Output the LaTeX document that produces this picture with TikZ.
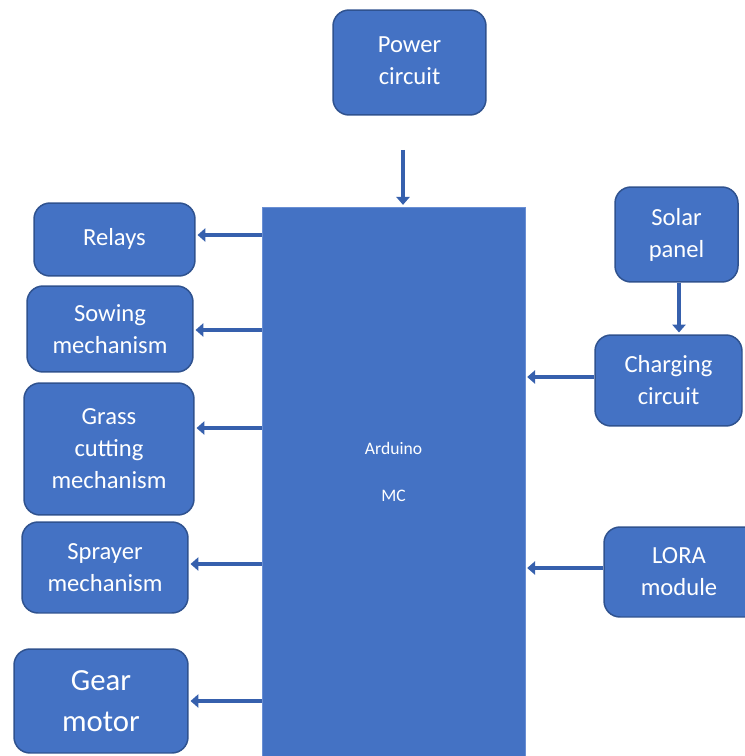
\documentclass[tikz,border=0pt]{standalone}
\usepackage{fontspec}
\setmainfont{Carlito}
\usetikzlibrary{arrows.meta}
\definecolor{boxblue}{HTML}{4472C4}
\definecolor{boxline}{HTML}{2F528F}
\definecolor{arrowblue}{HTML}{3660AD}
\definecolor{mcline}{HTML}{6A8FD3}
\tikzset{
  block/.style={draw=boxline,line width=0.85pt,fill=boxblue,rounded corners=0.32cm,
    text=white,align=center,inner sep=0pt,font=\fontsize{14}{18.2}\selectfont},
  mcbox/.style={draw=mcline,line width=0.5pt,fill=boxblue,inner sep=0pt},
  mctext/.style={text=white,align=center,font=\fontsize{10}{27}\selectfont},
  blockarrow/.style={draw=arrowblue,line width=2.8pt,shorten >=1pt,
    -{Triangle[width=7.5pt,length=4.5pt]}}
}
\begin{document}
\begin{tikzpicture}[x=0.02cm,y=-0.02cm]
\useasboundingbox (0,0) rectangle (744,756);
% controller in the middle
\node[mcbox,minimum width=5.26cm,minimum height=10.98cm,
  label={[mctext,yshift=0.19cm]center:{Arduino\\MC}}] (mc) at (393.5,481.5) {};
\node[block,minimum width=3.06cm,minimum height=2.1cm] (power) at (409.5,62.5) {\raisebox{0.08cm}{Power}\\\raisebox{0.08cm}{circuit}};
% outputs on the left
\node[block,minimum width=3.22cm,minimum height=1.46cm] (relays) at (114.5,239.5) {\raisebox{0.11cm}{Relays}};
\node[block,minimum width=3.32cm,minimum height=1.72cm] (sowing) at (110,329) {Sowing\\mechanism};
\node[block,minimum width=3.4cm,minimum height=2.64cm] (grass) at (109,449) {Grass\\cutting\\mechanism};
\node[block,minimum width=3.32cm,minimum height=1.82cm] (sprayer) at (105,567.5) {Sprayer\\mechanism};
\node[block,minimum width=3.48cm,minimum height=2.08cm,font=\fontsize{17.5}{23}\selectfont] (gear) at (101,701) {Gear\\motor};
% inputs on the right
\node[block,minimum width=2.46cm,minimum height=1.9cm] (solar) at (676.5,234.5) {Solar\\panel};
\node[block,minimum width=2.94cm,minimum height=1.82cm] (charging) at (668.5,380.5) {Charging\\circuit};
\node[block,minimum width=3.2cm,minimum height=1.8cm,text width=2.8cm] (lora) at (684,572) {\hspace*{-0.2cm}LORA\\\hspace*{-0.2cm}module};
% arrows
\coordinate (ptail) at (403,150);
\draw[blockarrow] (ptail) -- (ptail |- mc.north);
\foreach \n/\s in {relays/0.09,sowing/-0.02,grass/0.42,sprayer/0.07,gear/0}{
  \path ([yshift=\s cm]\n.east) coordinate (t\n);
  \draw[blockarrow] (mc.west |- t\n) -- (t\n);
}
\coordinate (stail) at ([xshift=0.05cm]solar.south);
\draw[blockarrow] (stail) -- (stail |- charging.north);
\foreach \n/\s in {charging/0.07,lora/0.08}{
  \path ([yshift=\s cm]\n.west) coordinate (t\n);
  \draw[blockarrow] (t\n) -- (mc.east |- t\n);
}
\end{tikzpicture}
\end{document}
